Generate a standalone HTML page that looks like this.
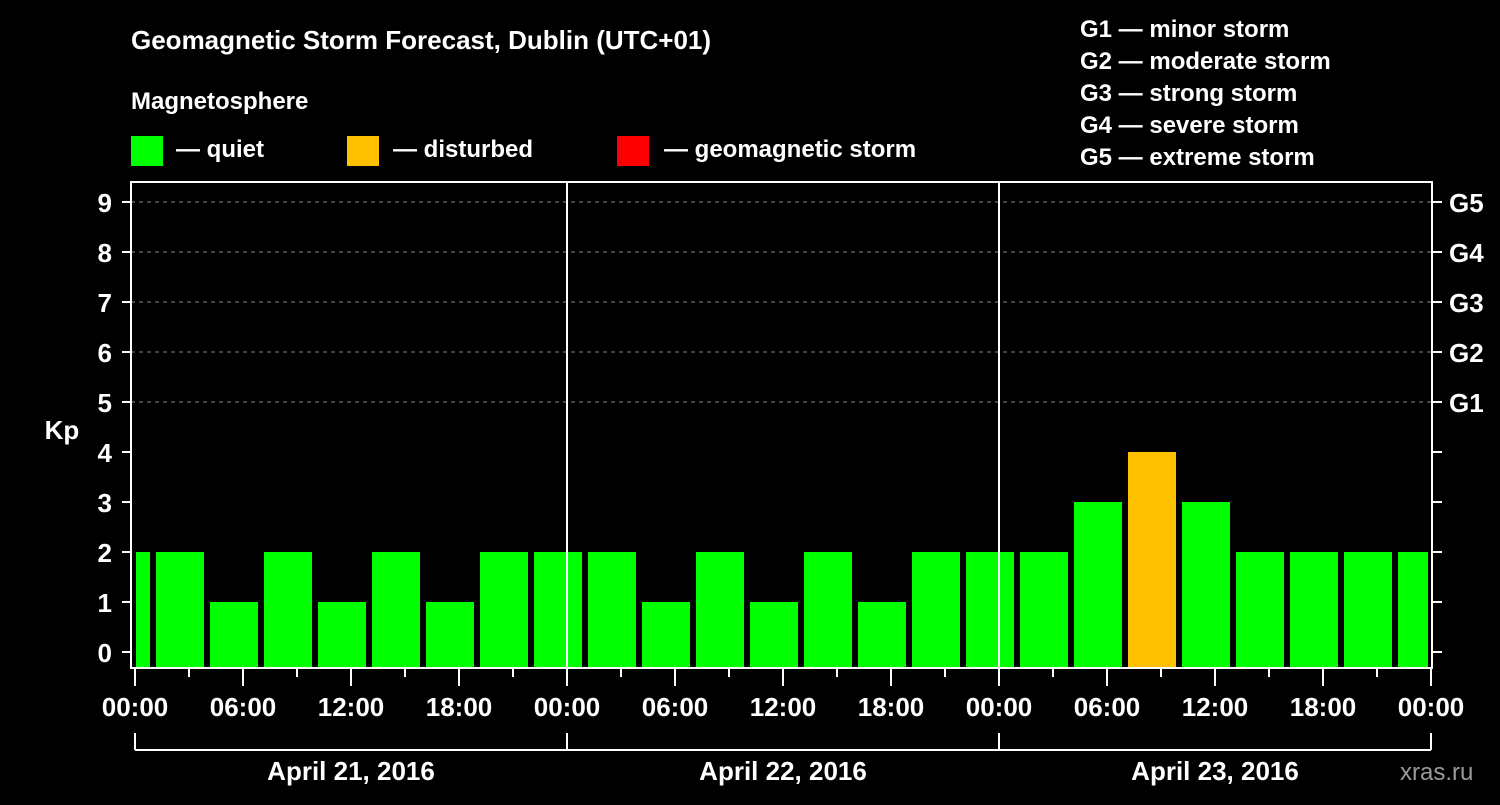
<!DOCTYPE html>
<html><head><meta charset="utf-8"><style>
body{margin:0;background:#000;width:1500px;height:800px;overflow:hidden}
svg text{font-family:"Liberation Sans",Arial,sans-serif;font-weight:bold;fill:#fff}
</style></head><body>
<svg id="c" width="1500" height="800">
<text x="131" y="49" font-size="26">Geomagnetic Storm Forecast, Dublin (UTC+01)</text>
<text x="131" y="109" font-size="24">Magnetosphere</text>
<rect x="131" y="136" width="32" height="30" fill="#00ff00"/>
<text x="176" y="157" font-size="24">— quiet</text>
<rect x="347" y="136" width="32" height="30" fill="#ffc000"/>
<text x="393" y="157" font-size="24">— disturbed</text>
<rect x="617" y="136" width="32" height="30" fill="#ff0000"/>
<text x="664" y="157" font-size="24">— geomagnetic storm</text>
<g font-size="24">
<text x="1080" y="37">G1 — minor storm</text>
<text x="1080" y="69">G2 — moderate storm</text>
<text x="1080" y="101">G3 — strong storm</text>
<text x="1080" y="133">G4 — severe storm</text>
<text x="1080" y="165">G5 — extreme storm</text>
</g>
<text x="62" y="439" font-size="26" text-anchor="middle">Kp</text>
<text x="1400" y="780" font-size="24" fill="#999" style="fill:#9a9a9a;font-weight:normal">xras.ru</text>
<g id="plot"></g>
</svg>
<script>
const kpValues=[2,2,1,2,1,2,1,2,2,2,1,2,1,2,1,2,2,2,3,4,3,2,2,2,2];
const yTicks=[0,1,2,3,4,5,6,7,8,9];
const gLabels=["G1","G2","G3","G4","G5"];
const gLevels=[5,6,7,8,9];
const xTickLabels=["00:00","06:00","12:00","18:00","00:00","06:00","12:00","18:00","00:00","06:00","12:00","18:00","00:00"];
const dayLabels=["April 21, 2016","April 22, 2016","April 23, 2016"];
const firstSlotHour=-2.1667;
const NS="http://www.w3.org/2000/svg";
const g=document.getElementById('plot');
const X0=135,PXH=18,L=131,R=1432,T=182,B=668;
const xs=h=>X0+h*PXH;
const ys=v=>652-v*50;
function mk(tag,a,p){const e=document.createElementNS(NS,tag);for(const k in a)e.setAttribute(k,a[k]);(p||g).appendChild(e);return e;}
// grid
gLevels.forEach((v,i)=>{
 const l=mk('line',{x1:L,x2:R,y1:ys(v),y2:ys(v),stroke:'#888','stroke-dasharray':'4,4','stroke-width':1});
 
 
 const t=mk('text',{x:1449,y:ys(v)+10,'font-size':26});t.textContent=gLabels[i];
 
 
});
// bars
kpValues.forEach((v,k)=>{
 const s=xs(firstSlotHour+3*k)+6;let e=s+48;
 const x1=Math.max(s,X0+1),x2=Math.min(e,R-4);
 if(x2<=x1)return;
 const r=mk('rect',{x:x1,y:ys(v),width:x2-x1,height:B-ys(v),fill:v>=5?'#ff0000':(v>=4?'#ffc000':'#00ff00')});
 
 
});
// day separators
[1,2].forEach(d=>{const l=mk('line',{x1:xs(24*d),x2:xs(24*d),y1:T,y2:B,stroke:'#fff','stroke-width':2});
 
 });
// frame
const f=mk('rect',{x:L,y:T,width:R-L,height:B-T,fill:'none',stroke:'#fff','stroke-width':2});


// y ticks
yTicks.forEach(v=>{
 mk('line',{x1:122,x2:L,y1:ys(v),y2:ys(v),stroke:'#fff','stroke-width':2});
 mk('line',{x1:R,x2:1442,y1:ys(v),y2:ys(v),stroke:'#fff','stroke-width':2});
 const t=mk('text',{x:112,y:ys(v)+10,'font-size':26,'text-anchor':'end'});t.textContent=v;
 
 
});
// x ticks
for(let h=0;h<=72;h+=3){const maj=h%6==0;mk('line',{x1:xs(h),x2:xs(h),y1:B,y2:maj?686:677,stroke:'#fff','stroke-width':2});}
xTickLabels.forEach((s,i)=>{const t=mk('text',{x:xs(i*6),y:716,'font-size':26,'text-anchor':'middle'});t.textContent=s;
 
 });
// day bracket
mk('line',{x1:xs(0),x2:xs(72),y1:750,y2:750,stroke:'#fff','stroke-width':2});
for(let d=0;d<=3;d++)mk('line',{x1:xs(24*d),x2:xs(24*d),y1:733,y2:750,stroke:'#fff','stroke-width':2});
dayLabels.forEach((s,i)=>{const t=mk('text',{x:xs(24*i+12),y:780,'font-size':26,'text-anchor':'middle'});t.textContent=s;
 
 });
</script>
</body></html>
